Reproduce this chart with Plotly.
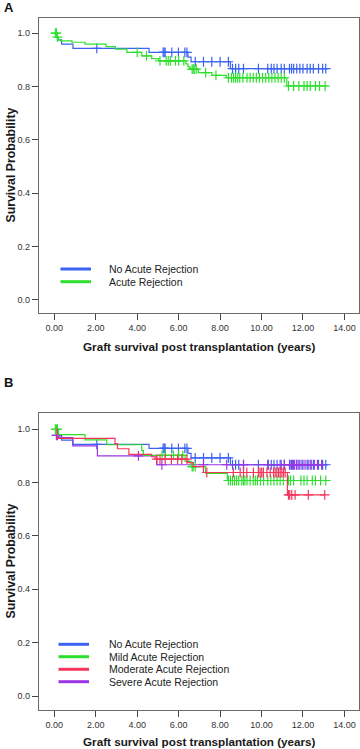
import numpy as np
import plotly.graph_objects as go

# ---------------- data ----------------
# Panel A
a_none_times = [0.08, 0.15, 0.35, 0.90, 4.57, 6.45, 6.60, 8.50, 13.18]
a_none_surv = [1.0, 0.975, 0.959, 0.943, 0.928, 0.910, 0.893, 0.867, 0.867]
a_none_cens = [2.05, 5.25, 5.30, 5.35, 5.67, 5.99, 6.30, 6.40, 6.80, 7.20, 7.60, 8.00, 8.40,
               8.60, 8.75, 8.90, 9.13, 9.85, 10.30, 10.47, 10.60, 10.75, 10.95, 11.10, 11.35,
               11.45, 11.55, 11.70, 11.85, 12.00, 12.20, 12.35, 12.50, 12.75, 12.95, 13.10]

a_ar_times = [0.05, 0.12, 0.20, 0.30, 0.85, 1.48, 2.50, 2.95, 3.50, 4.22, 4.70, 5.05, 6.35,
              6.45, 6.55, 6.95, 7.60, 8.30, 11.22, 13.23]
a_ar_surv = [1.0, 0.985, 0.975, 0.971, 0.966, 0.959, 0.950, 0.940, 0.928, 0.915, 0.905, 0.896,
             0.885, 0.875, 0.865, 0.852, 0.842, 0.833, 0.802, 0.802]
a_ar_cens = [0.05, 0.10, 0.15, 4.00, 4.45, 5.10, 5.40, 5.50, 5.60, 5.85, 6.00, 6.25, 6.65, 6.70,
             6.75, 6.85, 7.30, 7.80, 8.40, 8.55, 8.65, 8.75, 8.85, 8.95, 9.10, 9.30, 9.45, 9.60,
             9.75, 9.90, 10.05, 10.20, 10.35, 10.50, 10.65, 10.80, 10.95, 11.10, 11.30, 11.55,
             11.80, 12.05, 12.20, 12.35, 12.60, 12.80, 13.07]

# Panel B
b_none_times = a_none_times
b_none_surv = a_none_surv
b_none_cens = a_none_cens

b_mild_times = [0.05, 0.20, 1.48, 2.53, 4.22, 4.30, 6.31, 6.60, 7.30, 8.35, 13.23]
b_mild_surv = [1.0, 0.980, 0.960, 0.942, 0.920, 0.902, 0.880, 0.860, 0.835, 0.808, 0.808]
b_mild_cens = [0.05, 0.10, 0.15, 5.20, 5.35, 5.75, 6.00, 6.20, 6.65, 6.70, 6.80, 8.40, 8.50,
               8.60, 8.70, 8.80, 8.90, 9.05, 9.13, 9.20, 9.30, 9.45, 9.60, 9.70, 9.80, 9.95,
               10.10, 10.30, 10.45, 10.60, 10.75, 10.90, 11.05, 11.25, 11.30, 11.40, 11.55,
               11.90, 12.05, 12.20, 12.45, 12.60, 12.85, 13.10]

b_mod_times = [0.08, 0.15, 2.93, 3.05, 3.60, 4.70, 4.86, 6.45, 6.70, 7.20, 11.25, 13.07]
b_mod_surv = [1.0, 0.966, 0.946, 0.927, 0.906, 0.897, 0.888, 0.875, 0.860, 0.838, 0.754, 0.754]
b_mod_cens = [4.95, 5.10, 5.35, 5.65, 5.95, 6.15, 6.40, 7.36, 8.64, 8.97, 9.13, 9.29, 9.61,
              9.85, 9.93, 10.01, 10.09, 10.26, 10.42, 10.58, 10.66, 10.74, 10.82, 10.90, 10.98,
              11.06, 11.14, 11.30, 11.36, 11.46, 11.62, 12.26, 13.05]

b_sev_times = [0.08, 0.10, 0.20, 0.89, 2.08, 4.94, 12.93]
b_sev_surv = [1.0, 0.977, 0.969, 0.9375, 0.900, 0.867, 0.867]
b_sev_cens = [0.10, 0.15, 4.06, 5.19, 7.20, 8.32, 9.13, 10.33, 10.90, 11.10, 11.38, 11.50,
              11.60, 11.70, 11.80, 11.95, 12.10, 12.25, 12.40, 12.55, 12.70, 12.90]

x_ticks = [0, 2, 4, 6, 8, 10, 12, 14]
y_ticks = [0.0, 0.2, 0.4, 0.6, 0.8, 1.0]

labels_a = ["No Acute Rejection", "Acute Rejection"]
labels_b = ["No Acute Rejection", "Mild Acute Rejection", "Moderate Acute Rejection",
            "Severe Acute Rejection"]

# ---------------- styling ----------------
C_BLUE = "#3a63f2"
C_GREEN = "#2ee02e"
C_RED = "#f4365c"
C_PURPLE = "#9a35e6"
FONT = "Liberation Sans, Arial, sans-serif"
W, H = 360, 749

fig = go.Figure()


def step_at(times, surv, t):
    idx = np.searchsorted(np.asarray(times), t, side="right") - 1
    idx = max(idx, 0)
    return surv[idx]


def add_group(times, surv, cens, color, name, xa, ya):
    fig.add_trace(go.Scatter(x=times, y=surv, mode="lines", line=dict(color=color, width=1.2, shape="hv"),
                             name=name, showlegend=False, xaxis=xa, yaxis=ya, hoverinfo="skip"))
    cy = [step_at(times, surv, c) for c in cens]
    fig.add_trace(go.Scatter(x=cens, y=cy, mode="markers",
                             marker=dict(symbol="cross-thin-open", size=7, color=color,
                                         line=dict(color=color, width=1.2)),
                             name=name + " censored", showlegend=False, xaxis=xa, yaxis=ya,
                             hoverinfo="skip"))


add_group(a_none_times, a_none_surv, a_none_cens, C_BLUE, labels_a[0], "x", "y")
add_group(a_ar_times, a_ar_surv, a_ar_cens, C_GREEN, labels_a[1], "x", "y")

add_group(b_none_times, b_none_surv, b_none_cens, C_BLUE, labels_b[0], "x2", "y2")
add_group(b_sev_times, b_sev_surv, b_sev_cens, C_PURPLE, labels_b[3], "x2", "y2")
add_group(b_mild_times, b_mild_surv, b_mild_cens, C_GREEN, labels_b[1], "x2", "y2")
add_group(b_mod_times, b_mod_surv, b_mod_cens, C_RED, labels_b[2], "x2", "y2")


def px_x(p):
    return p / W


def px_y(p):
    return 1 - p / H


xdom = [px_x(39), px_x(358.5)]
axis_common = dict(showline=True, linecolor="#6a6a6a", linewidth=1.4, mirror=True,
                   ticks="outside", ticklen=6, tickcolor="#444", tickwidth=1,
                   showgrid=False, zeroline=False, ticklabeloverflow="allow",
                   tickfont=dict(family=FONT, size=9, color="#333"))

fig.update_layout(
    width=W, height=H,
    margin=dict(l=0, r=0, t=0, b=0),
    paper_bgcolor="white", plot_bgcolor="white",
    showlegend=False,
    xaxis=dict(domain=xdom, range=[-0.739, 14.68], tickvals=x_ticks, tickformat=".2f",
               anchor="y", **axis_common),
    yaxis=dict(domain=[px_y(313), px_y(18)], range=[-0.049, 1.057], tickvals=y_ticks,
               tickformat=".1f", anchor="x", **axis_common),
    xaxis2=dict(domain=xdom, range=[-0.739, 14.68], tickvals=x_ticks, tickformat=".2f",
                anchor="y2", **axis_common),
    yaxis2=dict(domain=[px_y(710), px_y(413)], range=[-0.0525, 1.061], tickvals=y_ticks,
                tickformat=".1f", anchor="x2", **axis_common),
)

ann = []
shapes = []

# panel letters
ann.append(dict(text="<b>A</b>", x=px_x(2), y=px_y(7), xref="paper", yref="paper",
                xanchor="left", yanchor="middle", showarrow=False,
                font=dict(family=FONT, size=13, color="#111")))
ann.append(dict(text="<b>B</b>", x=px_x(2), y=px_y(382), xref="paper", yref="paper",
                xanchor="left", yanchor="middle", showarrow=False,
                font=dict(family=FONT, size=13, color="#111")))

# axis titles
for ytitle_c, xtitle_c in [(165.5, 346), (561.5, 741)]:
    ann.append(dict(text="<b>Graft survival post transplantation (years)</b>", x=px_x(199),
                    y=px_y(xtitle_c), xref="paper", yref="paper", xanchor="center",
                    yanchor="middle", showarrow=False,
                    font=dict(family=FONT, size=11.7, color="#1a1a1a")))
    ann.append(dict(text="<b>Survival Probability</b>", x=px_x(10), y=px_y(ytitle_c),
                    xref="paper", yref="paper", xanchor="center", yanchor="middle",
                    textangle=-90, showarrow=False,
                    font=dict(family=FONT, size=12.3, color="#1a1a1a")))

# legends (drawn inside the plot areas)
legend_a = [(labels_a[0], C_BLUE, 269), (labels_a[1], C_GREEN, 281.7)]
legend_b = [(labels_b[0], C_BLUE, 644.3), (labels_b[1], C_GREEN, 656.7),
            (labels_b[2], C_RED, 669.3), (labels_b[3], C_PURPLE, 681.7)]
for items, x0, x1, tx in [(legend_a, 60.5, 91, 106.5), (legend_b, 58.5, 89, 106.5)]:
    for lab, col, yc in items:
        shapes.append(dict(type="line", xref="paper", yref="paper", x0=px_x(x0), x1=px_x(x1),
                           y0=px_y(yc), y1=px_y(yc), line=dict(color=col, width=3)))
        ann.append(dict(text=lab, x=px_x(tx), y=px_y(yc), xref="paper", yref="paper",
                        xanchor="left", yanchor="middle", showarrow=False,
                        font=dict(family=FONT, size=10.5, color="#222")))

fig.update_layout(annotations=ann, shapes=shapes)
fig.write_html("out.html",
               config={"displayModeBar": False},
               post_script="document.body.style.margin='0';document.body.style.padding='0';"
                           "document.body.style.overflow='hidden';")
